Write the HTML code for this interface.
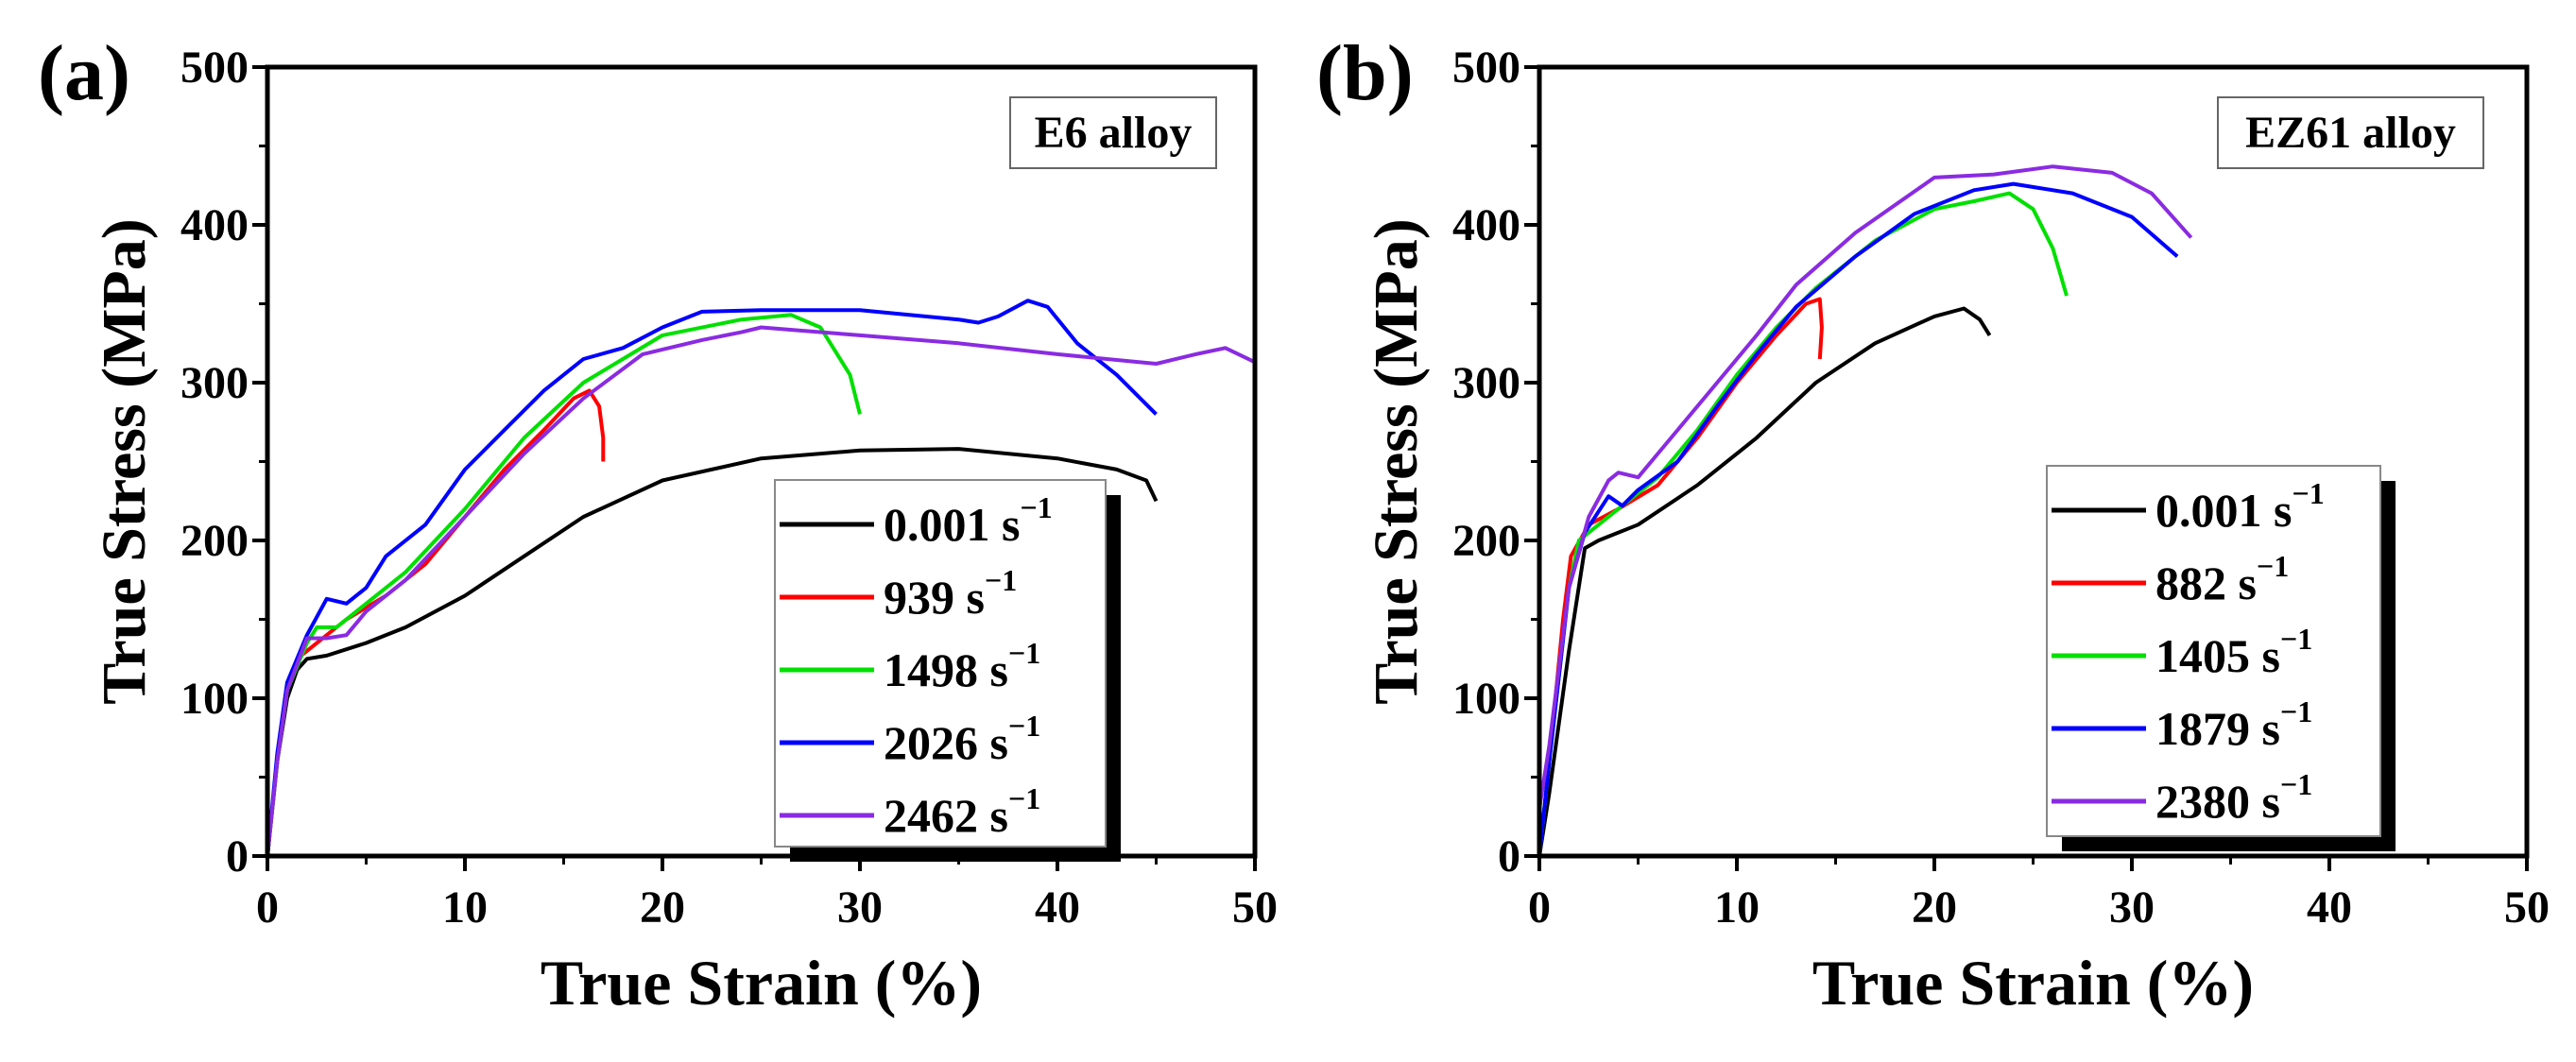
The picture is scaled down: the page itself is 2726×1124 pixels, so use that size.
<!DOCTYPE html>
<html><head><meta charset="utf-8">
<style>
html,body{margin:0;padding:0;background:#fff;}
svg{display:block;font-family:"Liberation Serif",serif;font-weight:bold;}
</style></head>
<body>
<svg id="chart" width="2726" height="1124" viewBox="0 0 2726 1124" xmlns="http://www.w3.org/2000/svg"></svg>
<script>
const xTicks = [0,10,20,30,40,50];
const yTicks = [0,100,200,300,400,500];
const labelsA = ["0.001 s","939 s","1498 s","2026 s","2462 s"];
const labelsB = ["0.001 s","882 s","1405 s","1879 s","2380 s"];
const colors = ["#000000","#ff0000","#00e000","#0000ff","#8a2be2"];
const a_black_x=[0,0.5,1,1.5,2,3,5,7,10,13,16,20,25,30,35,40,43,44.5,45];
const a_black_y=[0,60,100,118,125,127,135,145,165,190,215,238,252,257,258,252,245,238,225];
const a_red_x=[0,0.5,1,1.5,2,3,4,6,8,10,12,14,15.5,16.3,16.8,17,17];
const a_red_y=[0,60,105,125,130,140,150,165,185,215,245,270,290,295,285,265,250];
const a_green_x=[0,0.5,1,2,2.5,3.5,5,7,10,13,16,20,24,26.5,28,29.5,30];
const a_green_y=[0,60,105,135,145,145,160,180,220,265,300,330,340,343,335,305,280];
const a_blue_x=[0,0.5,1,2,3,4,5,6,8,10,12,14,16,18,20,22,25,30,35,36,37,38.5,39.5,41,43,45];
const a_blue_y=[0,65,110,140,163,160,170,190,210,245,270,295,315,322,335,345,346,346,340,338,342,352,348,325,305,280];
const a_purple_x=[0,0.5,1,2,3,4,5,7,10,13,16,19,22,24,25,27,30,35,40,45,47,48.5,50];
const a_purple_y=[0,60,105,138,138,140,155,175,215,255,290,318,327,332,335,333,330,325,318,312,318,322,313];
const b_black_x=[0,0.5,1.5,2.3,3,5,8,11,14,17,20,21.5,22.3,22.8];
const b_black_y=[0,40,130,195,200,210,235,265,300,325,342,347,340,330];
const b_red_x=[0,0.5,1.2,1.6,2.5,4,6,8,10,12,13.5,14.2,14.3,14.2];
const b_red_y=[0,60,150,190,210,220,235,265,300,330,350,353,335,315];
const b_green_x=[0,0.5,1.5,2,3,4,6,8,10,12,14,17,20,22,23.8,25,26,26.7];
const b_green_y=[0,60,170,200,210,220,240,270,305,335,360,390,410,415,420,410,385,355];
const b_blue_x=[0,0.5,1.5,2.3,3.5,4.2,5,7,9,11,13,16,19,22,24,27,30,32.3];
const b_blue_y=[0,60,170,205,228,222,232,250,285,318,348,380,407,422,426,420,405,380];
const b_purple_x=[0,0.5,1.5,2.5,3.5,4,5,6,7,9,11,13,16,20,23,26,29,31,33];
const b_purple_y=[30,70,170,215,238,243,240,255,270,300,330,362,395,430,432,437,433,420,392];

const NS="http://www.w3.org/2000/svg";
const svg=document.getElementById('chart');
function mk(tag,attrs,parent){const e=document.createElementNS(NS,tag);for(const k in attrs)e.setAttribute(k,attrs[k]);(parent||svg).appendChild(e);return e;}

function panel(cfg){
  const g=mk('g',{});
  
  
  const X0=cfg.x0,X1=cfg.x0+1045,Y0=906,Y1=71;
  const sx=v=>X0+(v/50)*(X1-X0);
  const sy=v=>Y0-(v/500)*(Y0-Y1);
  // series
  cfg.series.forEach((s,i)=>{
    const d=s[0].map((x,j)=>(j?'L':'M')+sx(x).toFixed(1)+','+sy(s[1][j]).toFixed(1)).join(' ');
    const p=mk('path',{d:d,fill:'none',stroke:colors[i],'stroke-width':4,'stroke-linejoin':'round'},g);
    
    
  });
  // frame
  const fr=mk('rect',{x:X0,y:Y1,width:X1-X0,height:Y0-Y1,fill:'none',stroke:'#000','stroke-width':5},g);
  
  
  // x ticks
  xTicks.forEach(v=>{
    mk('line',{x1:sx(v),x2:sx(v),y1:Y0,y2:Y0+16,stroke:'#000','stroke-width':4},g);
    const t=mk('text',{x:sx(v),y:Y0+70,'text-anchor':'middle','font-size':48},g);
    t.textContent=v;
    
    
  });
  for(let v=5;v<50;v+=10) mk('line',{x1:sx(v),x2:sx(v),y1:Y0,y2:Y0+9,stroke:'#000','stroke-width':3},g);
  yTicks.forEach(v=>{
    mk('line',{x1:X0-16,x2:X0,y1:sy(v),y2:sy(v),stroke:'#000','stroke-width':4},g);
    const t=mk('text',{x:X0-20,y:sy(v)+16,'text-anchor':'end','font-size':48},g);
    t.textContent=v;
    
    
  });
  for(let v=50;v<500;v+=100) mk('line',{x1:X0-9,x2:X0,y1:sy(v),y2:sy(v),stroke:'#000','stroke-width':3},g);
  // titles
  const xt=mk('text',{x:(X0+X1)/2,y:1063,'text-anchor':'middle','font-size':68},g);
  xt.textContent='True Strain (%)';
  
  
  const yt=mk('text',{x:0,y:0,'text-anchor':'middle','font-size':66,transform:`translate(${X0-130},${(Y0+Y1)/2}) rotate(-90)`},g);
  yt.textContent='True Stress (MPa)';
  
  
  const pl=mk('text',{x:cfg.plx,y:105,'font-size':84},g);
  pl.textContent=cfg.panelLabel;
  
  
  // alloy box
  const ab=mk('rect',{x:cfg.ab[0],y:103,width:cfg.ab[1],height:75,fill:'#fff',stroke:'#666','stroke-width':2},g);
  
  
  const at=mk('text',{x:cfg.ab[0]+cfg.ab[1]/2,y:156,'text-anchor':'middle','font-size':48},g);
  at.textContent=cfg.alloy;
  
  
  // legend
  const L=cfg.leg;
  const lg=mk('g',{},g);
  
  
  mk('rect',{x:L.x+16,y:L.y+16,width:L.w,height:L.h,fill:'#000'},lg);
  mk('rect',{x:L.x,y:L.y,width:L.w,height:L.h,fill:'#fff',stroke:'#888','stroke-width':2},lg);
  cfg.labels.forEach((lab,i)=>{
    const yy=L.y+L.first+i*L.step;
    const ln=mk('line',{x1:L.x+5,x2:L.x+105,y1:yy,y2:yy,stroke:colors[i],'stroke-width':5},lg);
    
    
    const t=mk('text',{x:L.x+115,y:yy+17,'font-size':50},lg);
    t.textContent=lab;
    const sup=mk('tspan',{dy:-24,'font-size':32},t);
    sup.textContent='\u22121';
    
    
  });
}
panel({name:'panel-a',x0:283,plx:40,panelLabel:'(a)',alloy:'E6 alloy',ab:[1069,218],
  leg:{x:820,y:508,w:350,h:388,first:47,step:77},labels:labelsA,
  series:[[a_black_x,a_black_y],[a_red_x,a_red_y],[a_green_x,a_green_y],[a_blue_x,a_blue_y],[a_purple_x,a_purple_y]]});
panel({name:'panel-b',x0:1629,plx:1393,panelLabel:'(b)',alloy:'EZ61 alloy',ab:[2347,281],
  leg:{x:2166,y:493,w:353,h:392,first:47,step:77},labels:labelsB,
  series:[[b_black_x,b_black_y],[b_red_x,b_red_y],[b_green_x,b_green_y],[b_blue_x,b_blue_y],[b_purple_x,b_purple_y]]});
</script>
</body></html>
